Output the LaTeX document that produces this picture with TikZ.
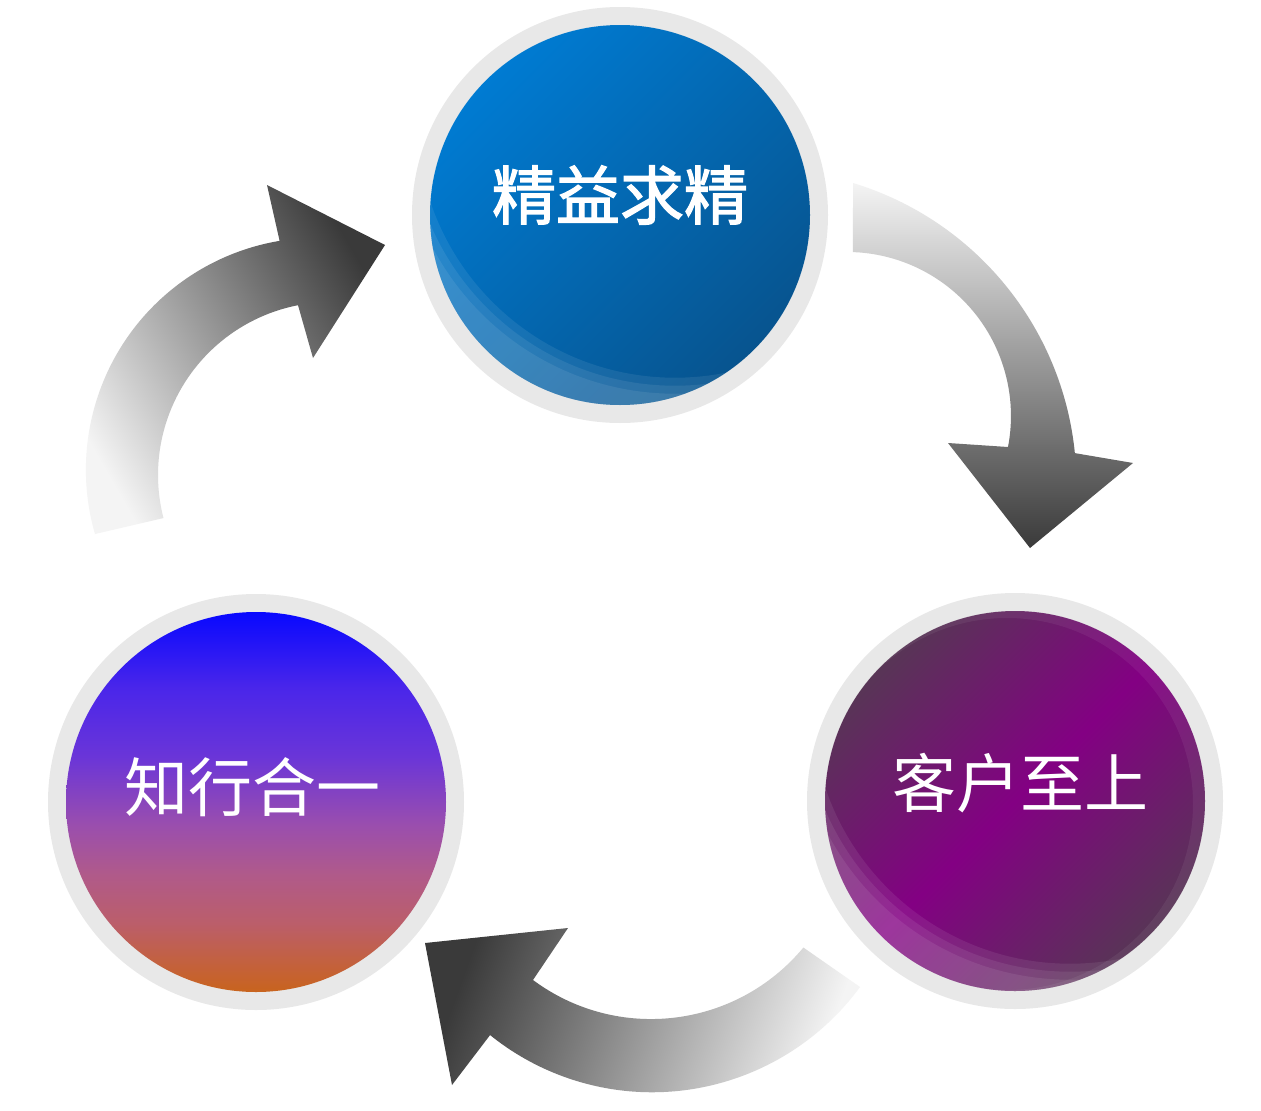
\documentclass[tikz,border=0pt]{standalone}
\usepackage{fontspec}
\newfontfamily\cjk{Noto Sans CJK SC}
\newfontfamily\cjkheavy[FakeBold=2]{Noto Sans CJK SC}
\definecolor{ringgray}{HTML}{E8E8E8}
\definecolor{blueA}{HTML}{007BD2}
\definecolor{blueB}{HTML}{07548F}
\definecolor{purA}{HTML}{583556}
\definecolor{purB}{HTML}{830083}
\definecolor{zA}{HTML}{C8641E}
\definecolor{zB}{HTML}{C6622E}
\definecolor{zC}{HTML}{BB5E6A}
\definecolor{zD}{HTML}{B05A8A}
\definecolor{zE}{HTML}{9A4EAE}
\definecolor{zF}{HTML}{6A35D8}
\definecolor{zG}{HTML}{4A26EA}
\definecolor{zH}{HTML}{0808FF}
\definecolor{arrowdark}{HTML}{3A3A3A}
\definecolor{arrowlight}{HTML}{F4F4F4}
\pgfdeclareverticalshading{zhxshade}{100bp}{color(0bp)=(zA); color(25bp)=(zA); color(27bp)=(zB); color(34bp)=(zC); color(40.5bp)=(zD); color(47bp)=(zE); color(56bp)=(zF); color(65bp)=(zG); color(75bp)=(zH); color(100bp)=(zH)}
\tikzset{
  ringdisc/.style={circle, fill=ringgray, draw=none, minimum size=416pt, inner sep=0pt, outer sep=0pt},
  coredisc/.style={circle, draw=none, minimum size=380pt, inner sep=0pt, outer sep=0pt},
  cyclelabel/.style={text=white, font=\cjk\fontsize{64}{64}\selectfont, inner sep=0pt},
  gloss/.style={white, opacity=0.08, even odd rule},
  bigarrow/.style={draw=none}
}
\begin{document}
\begin{tikzpicture}[x=1pt,y=-1pt]
\fill[white] (0,0) rectangle (1261,1111);
\useasboundingbox (0,0) rectangle (1261,1111);

% ---- arrows ----
\coordinate (a1tail) at (853,183);
\coordinate (a2tail) at (95,534);
\coordinate (a3tail) at (860,987);

\shade[bigarrow, top color=arrowlight, bottom color=arrowdark]
  (a1tail) arc[start angle=286.9, end angle=354.3, radius=315]
  -- (1133,463) -- (1030,548) -- (948,443) -- (1008,447)
  arc[start angle=10.9, end angle=-87.9, radius=164] -- cycle;

\shade[bigarrow, top color=arrowdark, bottom color=arrowlight, shading angle=-60]
  (a2tail) arc[start angle=163.9, end angle=260.5, radius=232]
  -- (267,185) -- (385,245) -- (313,358) -- (298,305.2)
  arc[start angle=259, end angle=165.6, radius=173] -- cycle;

\shade[bigarrow, top color=arrowdark, bottom color=arrowlight, shading angle=70]
  (a3tail) arc[start angle=36.3, end angle=128.9, radius=258]
  -- (452,1085) -- (425,943) -- (568,928) -- (533,980)
  arc[start angle=126.6, end angle=39.7, radius=198] -- cycle;

% ---- top circle ----
\node[ringdisc] (r1) at (620,215) {};
\node[coredisc, top color=blueA, bottom color=blueB, shading angle=45] (c1) at (620,215) {};
\begin{scope}
  \clip (620,215) circle [radius=190];
  \foreach \rr in {258,266,274}
    \fill[gloss] (620,215) circle [radius=190] (675,119.7) circle [radius=\rr];
\end{scope}
\node[cyclelabel, font=\cjkheavy\fontsize{64}{64}\selectfont] (t1) at (620,195) {精益求精};

% ---- right circle ----
\node[ringdisc] (r2) at (1015,801) {};
\node[coredisc, top color=purA, bottom color=purA, middle color=purB, shading angle=45] (c2) at (1015,801) {};
\begin{scope}
  \clip (1015,801) circle [radius=190];
  \foreach \rr in {258,266,274}
    \fill[gloss] (1015,801) circle [radius=190] (1070,705.7) circle [radius=\rr];
  \fill[white, opacity=0.06, even odd rule] (1015,801) circle [radius=190] (1007,804) circle [radius=186];
\end{scope}
\node[cyclelabel] (t2) at (1020,783) {客户至上};

% ---- left circle ----
\node[ringdisc] (r3) at (256,802) {};
\node[coredisc, shading=zhxshade] (c3) at (256,802) {};
\node[cyclelabel] (t3) at (252,787) {知行合一};
\end{tikzpicture}
\end{document}
